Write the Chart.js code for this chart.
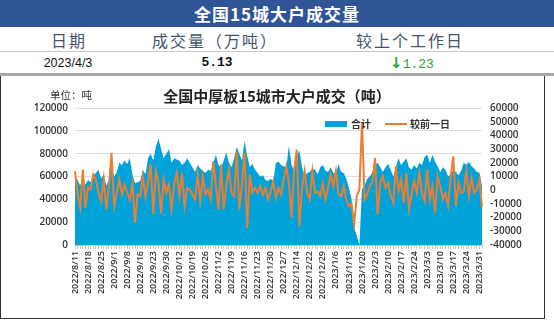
<!DOCTYPE html>
<html>
<head>
<meta charset="utf-8">
<script src="https://cdn.jsdelivr.net/npm/chart.js@4.4.0/dist/chart.umd.min.js"></script>
<style>
  body { margin: 0; width: 554px; height: 322px; background: #fff; position: relative; overflow: hidden; font-family: "Noto Sans CJK SC", sans-serif; }
  .abs { position: absolute; white-space: nowrap; }
  .topbar { left: 0; top: 0; width: 554px; height: 27px; background: #2F5597; color: #fff; font-size: 17px; font-weight: bold; text-align: center; line-height: 27px; letter-spacing: 1px; }
  .hd { top: 29px; font-size: 16px; color: #44546A; transform: translateX(-50%); line-height: 22px; letter-spacing: 2px; }
  .line1 { left: 0; top: 51px; width: 554px; height: 1px; background: #C8C8C8; }
  .val { top: 54px; font-size: 12.5px; color: #111; transform: translateX(-50%); line-height: 18px; }
  .line2 { left: 0; top: 73px; width: 554px; height: 3px; background: #A8A8A8; }
  .frame { left: 0; top: 76px; width: 543px; height: 242px; border: 1.5px solid #333; border-top: none; }
  .ctitle { left: 277px; top: 86px; font-size: 15px; font-weight: bold; color: #222; transform: translateX(-50%); line-height: 20px; }
  .unit { left: 50px; top: 88px; font-size: 10.5px; color: #333; line-height: 14px; }
  .lg { font-size: 10px; font-weight: bold; color: #333; line-height: 12px; }
  canvas { position: absolute; left: 0; top: 80px; }
</style>
</head>
<body>
<div class="abs topbar">全国15城大户成交量</div>
<div class="abs hd" style="left:69px">日期</div>
<div class="abs hd" style="left:215px">成交量（万吨）</div>
<div class="abs hd" style="left:410px">较上个工作日</div>
<div class="abs line1"></div>
<div class="abs val" style="left:68px;font-family:'Liberation Sans',sans-serif;">2023/4/3</div>
<div class="abs val" style="left:217px;font-family:'Liberation Mono',monospace;font-weight:bold;font-size:13px;">5.13</div>
<div class="abs val" style="left:412px;font-family:'Liberation Mono',monospace;color:#2E9E3A;font-size:13px;"><span style="font-family:'DejaVu Sans',sans-serif;font-weight:bold;font-size:15px;">↓</span>1.23</div>
<div class="abs line2"></div>
<div class="abs frame"></div>
<canvas id="myChart" width="549" height="238"></canvas>
<div class="abs ctitle">全国中厚板15城市大户成交（吨）</div>
<div class="abs unit">单位：吨</div>
<div class="abs" style="left:325px;top:121px;width:22px;height:6px;background:#00A2DA;"></div>
<div class="abs lg" style="left:351px;top:118px;">合计</div>
<div class="abs" style="left:385px;top:123px;width:22px;height:2px;background:#ED7D31;"></div>
<div class="abs lg" style="left:410px;top:118px;">较前一日</div>
<script>
// 日期刻度（每5个交易日一个）
const tickLabels = [
    '2022/8/11', '2022/8/18', '2022/8/25', '2022/9/1', '2022/9/8', '2022/9/16',
    '2022/9/23', '2022/9/30', '2022/10/12', '2022/10/19', '2022/10/26', '2022/11/2',
    '2022/11/9', '2022/11/16', '2022/11/23', '2022/11/30', '2022/12/7', '2022/12/14',
    '2022/12/22', '2022/12/29', '2023/1/6', '2023/1/13', '2023/1/20', '2023/2/3',
    '2023/2/10', '2023/2/17', '2023/2/24', '2023/3/3', '2023/3/10', '2023/3/17',
    '2023/3/24', '2023/3/31'
];
const lastDate = '2023/4/3';

// 合计（吨）
const total = [
    60000, 57000, 52000, 60000, 53000, 57000, 55000, 61000, 63000, 66000,
    58000, 62000, 52000, 57000, 70000, 60000, 64000, 72000, 70000, 74000,
    71000, 76000, 62000, 54000, 55000, 56000, 66000, 62000, 76000, 80000,
    74000, 86000, 93000, 84000, 76000, 80000, 84000, 72000, 76000, 75000,
    74000, 70000, 72000, 76000, 72000, 68000, 64000, 70000, 67000, 65000,
    63000, 66000, 65000, 72000, 79000, 70000, 68000, 74000, 81000, 72000,
    68000, 76000, 86000, 80000, 74000, 91000, 78000, 68000, 71000, 66000,
    63000, 60000, 61000, 57000, 56000, 58000, 56000, 72000, 73000, 70000,
    69000, 68000, 87000, 70000, 65000, 76000, 83000, 68000, 60000, 63000,
    64000, 67000, 66000, 62000, 68000, 70000, 65000, 64000, 68000, 63000,
    62000, 71000, 64000, 63000, 58000, 50000, 40000, 16000, 8000, 0,
    49000, 52000, 58000, 60000, 64000, 70000, 72000, 68000, 64000, 68000,
    71000, 66000, 60000, 68000, 76000, 70000, 73000, 76000, 68000, 66000,
    70000, 67000, 72000, 70000, 77000, 79000, 72000, 79000, 73000, 69000,
    64000, 68000, 66000, 60000, 62000, 66000, 64000, 61000, 65000, 72000,
    70000, 73000, 69000, 67000, 64000, 63600, 51300
];

// 较前一日（吨）
const change = [
    13900, -3000, -12900, 15100, -12900, 2000, 500, 11500, 7800, -2000,
    -8000, 7800, -14100, 3000, 27300, -11700, -2000, 7800, -3000, 4000,
    -2000, -6800, 5000, -23800, -3000, -4400, 10000, -5000, 6000, 18800,
    -17700, 13900, 5000, -16500, 7800, -2000, 4000, -14100, 5000, 12700,
    -4400, 12700, -11700, 1700, 500, -3000, -6800, 11500, -8000, 10200,
    -3000, 500, -6800, 21200, 3000, -14100, 18800, -14100, 4000, 15100,
    -2000, -4400, 28000, -14100, 5000, 27300, -27500, 11500, -1900, 1700,
    -2000, 2900, -3100, 1700, -6800, -1000, 6600, -5600, 1700, -3000,
    7800, 17500, 5000, -20200, 15100, 29700, -26300, 1700, 13900, -2000,
    -6800, 13900, -1900, -1000, -4400, 5400, -6800, 2000, 11500, 2900,
    13900, -3000, -4400, 2900, -6800, -11700, -10000, -25000, -4400, 500,
    49200, -6800, -3100, 2900, 6000, 23600, -17700, 5400, 10200, 1700,
    5400, -4000, -9200, 17500, -700, 7800, -9200, 12700, -14100, -3000,
    6600, -1900, 12700, -2000, -8000, 15100, -6800, 3000, -16500, 10200,
    2900, -6800, -2000, -11700, 10200, 24700, -11700, 5400, -1900, -1000,
    13900, -4400, 9000, -2000, 500, 7800, -12300
];

// 类别：每5个点显示一个日期
const labels = total.map(function (v, i) {
    if (i % 5 === 0 && tickLabels[i / 5]) return tickLabels[i / 5];
    if (i === total.length - 1) return lastDate;
    return '';
});

const tickFont = { family: "'Open Sans', sans-serif", size: 10, weight: '600' };

const config = {
    type: 'line',
    data: {
        labels: labels,
        datasets: [{
            label: '较前一日',
            data: change,
            yAxisID: 'y1',
            borderColor: '#ED7D31',
            borderWidth: 2,
            pointRadius: 0,
            fill: false,
            tension: 0,
            order: 1
        }, {
            label: '合计',
            data: total,
            yAxisID: 'y',
            backgroundColor: '#00A2DA',
            borderColor: '#00A2DA',
            borderWidth: 0,
            pointRadius: 0,
            fill: 'origin',
            tension: 0,
            order: 2
        }]
    },
    options: {
        responsive: false,
        animation: false,
        devicePixelRatio: 1,
        layout: { padding: { top: 28, left: 0, right: 0, bottom: 0 } },
        plugins: { legend: { display: false }, title: { display: false }, tooltip: { enabled: false } },
        scales: {
            x: {
                grid: { display: true, drawOnChartArea: false, tickLength: 4, color: '#C8C8C8' },
                border: { color: '#C8C8C8' },
                ticks: {
                    autoSkip: false, maxRotation: 90, minRotation: 90, padding: 2,
                    color: '#333', font: { family: "'Open Sans', sans-serif", size: 9, weight: '600' },
                    callback: function (v, i) { return i === total.length - 1 ? '' : labels[i]; }
                },
                afterFit: function (s) { s.height = 73; }
            },
            y: {
                position: 'left', min: 0, max: 120000,
                ticks: { stepSize: 20000, autoSkip: false, padding: 7, color: '#333', font: tickFont,
                    callback: function (v) { return String(v); } },
                grid: { color: '#DDDDDD', drawTicks: false },
                border: { display: false },
                afterFit: function (s) { s.width = 75; }
            },
            y1: {
                position: 'right', min: -40000, max: 60000,
                ticks: { stepSize: 10000, autoSkip: false, padding: 8, color: '#333', font: tickFont,
                    callback: function (v) { return String(v); } },
                grid: { display: false, drawTicks: false },
                border: { display: false },
                afterFit: function (s) { s.width = 67; }
            }
        }
    }
};

const myChart = new Chart(document.getElementById('myChart'), config);
</script>
</body>
</html>
